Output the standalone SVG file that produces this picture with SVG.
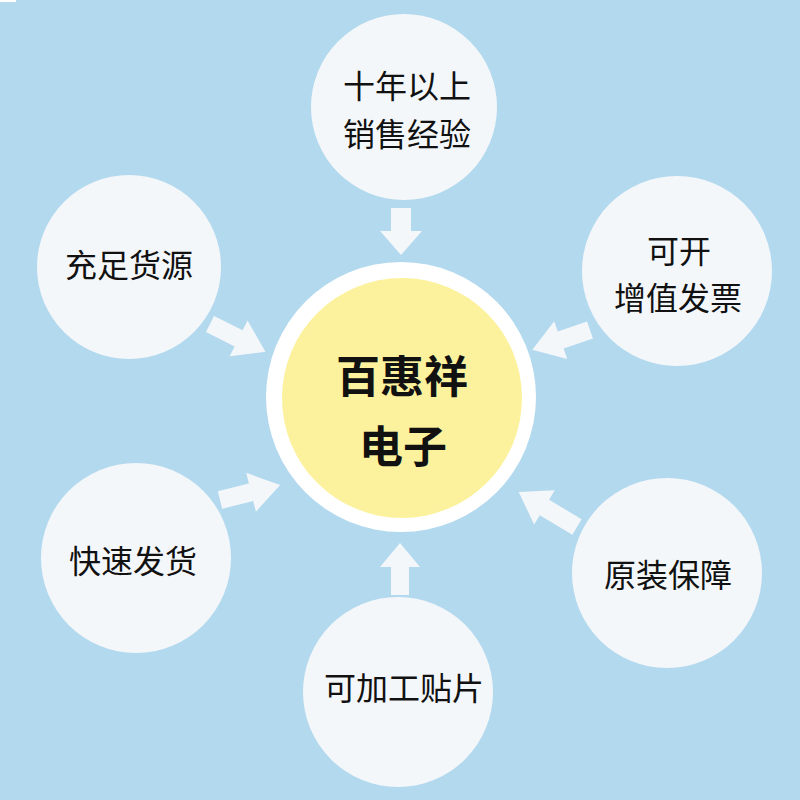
<svg xmlns="http://www.w3.org/2000/svg" width="800" height="800" viewBox="0 0 800 800">
<style>
.bg{fill:#b3d9ef}
.node{fill:#f4f7fa}
.arr{fill:#f4f7fa}
.t{font-family:"Noto Sans CJK SC","Noto Sans",sans-serif;font-size:32px;fill:#111;text-anchor:middle}
.c{font-family:"Noto Sans CJK SC","Noto Sans",sans-serif;font-size:44px;font-weight:bold;fill:#111;text-anchor:middle}
</style>
<rect class="bg" x="0" y="0" width="800" height="800"/>
<rect x="0" y="0" width="16" height="2" fill="#ffffff"/>
<g id="connectors">
<polygon class="arr" transform="translate(401,208) rotate(90)" points="0,-10 23,-10 23,-21 47,0 23,21 23,10 0,10"/>
<polygon class="arr" transform="translate(400,595) rotate(-90)" points="0,-9 28,-9 28,-20 52,0 28,20 28,9 0,9"/>
<polygon class="arr" transform="translate(210,324) rotate(26.6)" points="0,-9 32,-9 32,-20 62,0 32,20 32,9 0,9"/>
<polygon class="arr" transform="translate(590,330) rotate(161)" points="0,-9 31,-9 31,-20 61,0 31,20 31,9 0,9"/>
<polygon class="arr" transform="translate(577,527) rotate(211)" points="0,-9 38,-9 38,-20 68,0 38,20 38,9 0,9"/>
<polygon class="arr" transform="translate(220,500) rotate(-14)" points="0,-9 32,-9 32,-20 62,0 32,20 32,9 0,9"/>
</g>
<g id="center">
<circle cx="401" cy="397" r="135" fill="#ffffff"/>
<circle cx="402" cy="398" r="120" fill="#fcf29d"/>
<text class="c" x="402" y="393">百惠祥</text>
<text class="c" x="403" y="463">电子</text>
</g>
<g id="n-top">
<circle class="node" cx="404" cy="107" r="93"/>
<text class="t" x="407" y="98">十年以上</text>
<text class="t" x="407" y="146">销售经验</text>
</g>
<g id="n-ul">
<circle class="node" cx="129" cy="267" r="92"/>
<text class="t" x="129" y="277">充足货源</text>
</g>
<g id="n-ur">
<circle class="node" cx="677" cy="271" r="95"/>
<text class="t" x="679" y="263">可开</text>
<text class="t" x="678" y="310">增值发票</text>
</g>
<g id="n-ll">
<circle class="node" cx="136" cy="558" r="95"/>
<text class="t" x="133" y="573">快速发货</text>
</g>
<g id="n-lr">
<circle class="node" cx="667" cy="573" r="95"/>
<text class="t" x="668" y="587">原装保障</text>
</g>
<g id="n-bottom">
<circle class="node" cx="398" cy="692" r="95"/>
<text class="t" x="404" y="700">可加工贴片</text>
</g>
</svg>
